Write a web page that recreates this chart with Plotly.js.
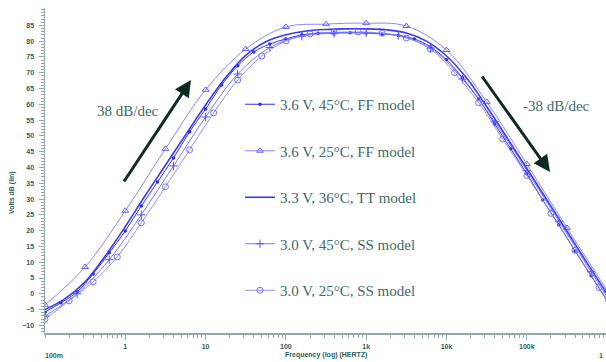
<!DOCTYPE html>
<html>
<head>
<meta charset="utf-8">
<script src="https://cdn.plot.ly/plotly-3.0.1.min.js"></script>
<style>html,body{margin:0;padding:0;background:#fff;}#chart{width:606px;height:362px;}</style>
</head>
<body>
<div id="chart"></div>
<script>
// Series names
const seriesNames = ["3.6 V, 45\u00B0C, FF model", "3.6 V, 25\u00B0C, FF model", "3.3 V, 36\u00B0C, TT model", "3.0 V, 45\u00B0C, SS model", "3.0 V, 25\u00B0C, SS model"];

// 3.6 V, 45°C, FF model (dots)
const ffHotFreq = [0.1, 0.158, 0.251, 0.398, 0.631, 1, 1.58, 2.51, 3.98, 6.31, 10, 15.8, 25.1, 39.8, 63.1, 100, 158, 251, 398, 631, 1000, 1580, 2510, 3980, 6310, 10000, 15800, 25100, 39800, 63100, 100000, 158000, 251000, 398000, 631000, 1000000];
const ffHotDb = [-5.8, -2.8, 0.6, 6.3, 13.0, 19.9, 27.8, 35.4, 43.0, 51.3, 58.5, 66.1, 72.2, 76.6, 79.1, 80.7, 82.0, 82.5, 82.7, 82.7, 82.6, 82.3, 81.8, 80.7, 78.2, 74.1, 68.4, 61.7, 53.8, 45.9, 38.0, 29.7, 21.8, 13.6, 5.7, -2.2];

// 3.6 V, 25°C, FF model (triangles)
const ffColdFreq = [0.1, 0.316, 1, 3.16, 10, 31.6, 100, 316, 1000, 3160, 10000, 31600, 100000, 316000, 1000000];
const ffColdDb = [-3.5, 8.5, 26.3, 45.9, 64.6, 77.5, 84.5, 85.4, 85.7, 84.8, 77.2, 60.8, 41.1, 20.9, 1.0];

// 3.3 V, 36°C, TT model (plain line)
const ttFreq = [0.1, 0.178, 0.316, 0.562, 1, 1.78, 3.16, 5.62, 10, 17.8, 31.6, 56.2, 100, 178, 316, 562, 1000, 1780, 3160, 5620, 10000, 17800, 31600, 56200, 100000, 178000, 316000, 562000, 1000000];
const ttDb = [-5.0, -1.5, 3.8, 12.0, 21.3, 31.2, 40.7, 50.3, 59.8, 68.5, 75.5, 79.8, 82.0, 83.2, 83.7, 83.9, 83.9, 83.6, 82.6, 80.0, 75.3, 68.3, 59.3, 49.6, 39.7, 29.7, 19.8, 9.8, 0.0];

// 3.0 V, 45°C, SS model (crosses)
const ssHotFreq = [0.1, 0.251, 0.631, 1.58, 3.98, 10, 25.1, 63.1, 158, 398, 1000, 2510, 6310, 15800, 39800, 100000, 251000, 631000, 1585000];
const ssHotDb = [-7.0, 0.0, 10.8, 25.0, 40.5, 56.0, 69.6, 78.0, 81.6, 82.5, 82.6, 81.8, 77.8, 68.0, 54.5, 39.0, 23.0, 7.0, -9.0];

// 3.0 V, 25°C, SS model (circles)
const ssColdFreq = [0.1, 0.2, 0.398, 0.794, 1.58, 3.16, 6.31, 12.6, 25.1, 50.1, 100, 200, 398, 794, 1580, 3160, 6310, 12600, 25100, 50100, 100000, 200000, 398000, 794000, 1580000];
const ssColdDb = [-8.0, -2.2, 3.8, 11.7, 22.5, 33.9, 45.6, 57.3, 67.7, 75.3, 80.1, 82.3, 82.8, 82.9, 82.5, 81.0, 77.5, 70.0, 60.5, 49.0, 37.5, 25.5, 13.8, 2.0, -10.0];

// Axis tick labels
const yTickVals = [-10, -5, 0, 5, 10, 15, 20, 25, 30, 35, 40, 45, 50, 55, 60, 65, 70, 75, 80, 85];
const xTickVals = [1, 10, 100, 1000, 10000, 100000];
const xTickText = ["1", "10", "100", "1k", "10k", "100k"];
const xEndLabels = ["100m", "1"];
const slopeLabels = ["38 dB/dec", "-38 dB/dec"];

const tickCol = "#2d5e5e";
const axisCol = "#8fa8a8";
const txtCol = "#3d6b6b";

function mk(i, x, y, color, width, marker) {
  const t = {
    x: x, y: y, name: seriesNames[i], type: "scatter",
    mode: marker ? "lines+markers" : "lines",
    line: {color: color, width: width, shape: "spline", smoothing: 1},
    legendgroup: "g" + i
  };
  if (marker) t.marker = marker;
  return t;
}

const traces = [
  mk(0, ffHotFreq, ffHotDb, "#3030f0", 1.0, {symbol: "circle", size: 3.5, color: "#2b2bf0"}),
  mk(1, ffColdFreq, ffColdDb, "#7a7aff", 0.9, {symbol: "triangle-up-open", size: 6, color: "#6060ff", line: {width: 1}}),
  mk(2, ttFreq, ttDb, "#3a3aff", 1.6, null),
  mk(3, ssHotFreq, ssHotDb, "#6a6aff", 0.9, {symbol: "cross-thin-open", size: 6, color: "#5050ff", line: {width: 1}}),
  mk(4, ssColdFreq, ssColdDb, "#8585ff", 0.9, {symbol: "circle-open", size: 6, color: "#7070ff", line: {width: 1}})
];

const X0 = 45, W = 561, Y0 = 333, H = 325;
function px(xp) { return (xp - X0) / W; }
function py(yp) { return (Y0 - yp) / H; }

function txt(x, y, s, font, extra) {
  return Object.assign({xref: "paper", yref: "paper", x: px(x), y: py(y), text: s, showarrow: false,
    xanchor: "center", yanchor: "middle", font: font}, extra || {});
}
const serifFont = {family: "Liberation Serif", size: 15, color: txtCol};
const smallFont = {family: "Liberation Sans", size: 7, color: tickCol, weight: "bold"};

const annotations = [
  {xref: "paper", yref: "paper", x: px(191), y: py(80), ax: -68, ay: 103,
   showarrow: true, arrowhead: 2, arrowsize: 1.1, arrowwidth: 3, arrowcolor: "#0d2b20", text: ""},
  {xref: "paper", yref: "paper", x: px(550), y: py(172), ax: -69, ay: -97,
   showarrow: true, arrowhead: 2, arrowsize: 1.1, arrowwidth: 3, arrowcolor: "#0d2b20", text: ""},
  txt(128, 111, slopeLabels[0], serifFont),
  txt(556, 106, slopeLabels[1], serifFont),
  txt(54, 355, xEndLabels[0], smallFont),
  txt(601, 355, xEndLabels[1], smallFont),
  txt(326, 355, "Frequency (log) (HERTZ)", smallFont),
  txt(12, 193, "Volts dB (lin)", smallFont, {textangle: -90})
];

const layout = {
  width: 606, height: 362,
  margin: {l: X0, r: 0, t: 8, b: 29, pad: 0},
  paper_bgcolor: "#ffffff", plot_bgcolor: "#ffffff",
  showlegend: true,
  legend: {
    x: px(240), y: py(88), xanchor: "left", yanchor: "top",
    bgcolor: "rgba(0,0,0,0)", borderwidth: 0,
    font: {family: "Liberation Serif", size: 15, color: txtCol},
    tracegroupgap: 24, itemwidth: 30, traceorder: "grouped"
  },
  xaxis: {
    type: "log", range: [-1, 5.986], autorange: false,
    showline: true, linecolor: axisCol, linewidth: 1.5,
    ticks: "outside", ticklen: 5, tickcolor: axisCol, tickwidth: 1,
    tickmode: "array", tickvals: xTickVals, ticktext: xTickText,
    tickfont: smallFont,
    ticklabelstandoff: 1,
    minor: {ticks: "outside", ticklen: 3, tickcolor: axisCol, dtick: "D1", showgrid: false},
    showgrid: false, zeroline: false
  },
  yaxis: {
    range: [-12.4, 90.5], autorange: false,
    showline: true, linecolor: axisCol, linewidth: 1.5,
    ticks: "outside", ticklen: 5, tickcolor: axisCol, tickwidth: 1,
    tickmode: "array", tickvals: yTickVals,
    tickfont: smallFont,
    ticklabelstandoff: 3,
    minor: {ticks: "outside", ticklen: 3, tickcolor: axisCol, dtick: 1, showgrid: false},
    showgrid: false, zeroline: false
  },
  annotations: annotations
};

Plotly.newPlot("chart", traces, layout, {displayModeBar: false, staticPlot: true});
</script>
</body>
</html>
